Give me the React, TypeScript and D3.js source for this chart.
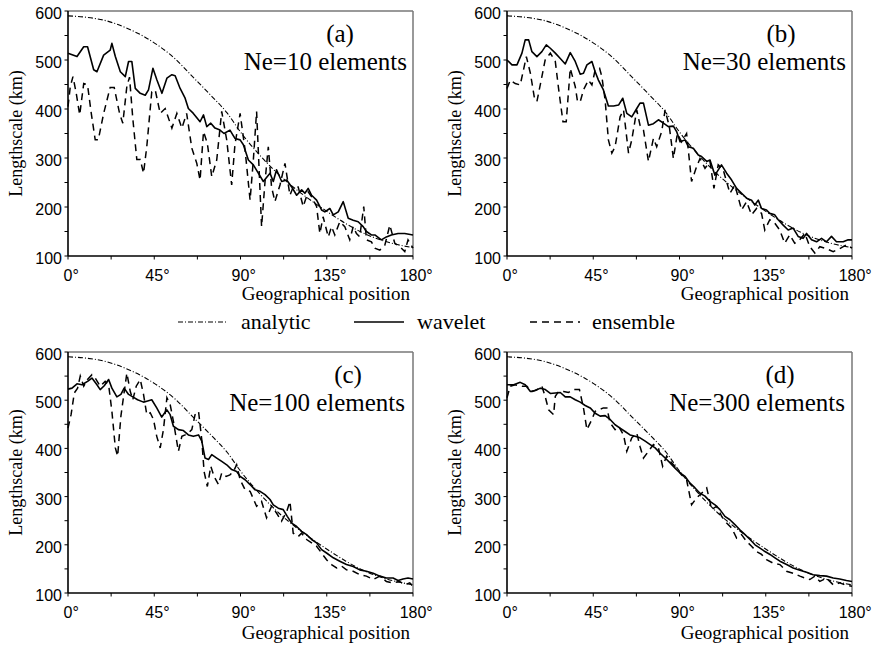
import React from "react";
import * as d3 from "d3";

type P = [number, number];

// ---- Data (degrees, lengthscale km) ----
const analytic: P[] = [
  [0, 590], [10, 587], [20, 580], [30, 566], [40, 547], [48, 527], [56, 502], [65, 466],
  [75, 426], [83, 392], [90, 353], [100, 306], [110, 266], [120, 233], [128, 210], [137, 186],
  [145, 166], [154, 147], [163, 133], [170, 125], [180, 117],
];

const waveletA: P[] = [
  [0, 514], [4.7, 507], [8.2, 527], [10.2, 527], [13.4, 480], [15.1, 476], [18.6, 510], [22.0, 520],
  [22.9, 534], [24.7, 507], [27.3, 476], [29.9, 466], [31.6, 497], [33.3, 497], [35.1, 442], [37.7, 432],
  [40.3, 428], [42.0, 439], [44.3, 483], [46.4, 459], [49.0, 432], [51.6, 463], [54.2, 470], [55.9, 468],
  [58.5, 442], [61.1, 422], [62.8, 401], [65.4, 391], [68.9, 374], [70.7, 388], [72.4, 364], [74.5, 371],
  [76.7, 361], [79.3, 357], [81.4, 350], [84.5, 357], [87.1, 340], [89.8, 337], [91.5, 327], [94.1, 296],
  [96.7, 286], [99.3, 269], [101.9, 252], [105.4, 269], [107.1, 252], [108.8, 276], [111.5, 252], [114.1, 255],
  [116.7, 241], [119.3, 224], [121.9, 235], [123.6, 228], [125.3, 238], [127.1, 224], [129.7, 214], [132.3, 194],
  [134.0, 190], [136.6, 197], [138.4, 184], [141.0, 190], [143.6, 211], [146.2, 177], [148.8, 173], [151.4, 170],
  [154.0, 160], [155.7, 150], [158.3, 143], [160.1, 143], [163.5, 133], [166.1, 139], [168.7, 143], [172.2, 146],
  [175.7, 146], [180, 143],
];

const ensembleA: P[] = [
  [0, 405], [1.2, 446], [2.6, 466], [4.3, 432], [6.1, 388], [8.2, 452], [10.2, 449], [12.0, 395],
  [14.2, 337], [15.8, 337], [18.6, 391], [22.0, 444], [24.1, 444], [26.9, 391], [28.6, 371], [30.7, 446],
  [32.1, 465], [33.8, 381], [35.9, 297], [37.7, 297], [39.4, 269], [41.1, 323], [43.7, 435], [45.5, 439],
  [48.1, 391], [50.7, 401], [54.2, 361], [56.8, 391], [59.4, 361], [61.9, 391], [64.6, 320], [67.2, 289],
  [68.9, 255], [70.7, 354], [72.7, 330], [75.0, 262], [77.6, 296], [80.2, 395], [82.8, 337], [85.4, 245],
  [87.1, 327], [89.8, 391], [92.4, 316], [95.0, 214], [96.7, 296], [98.4, 395], [101.0, 160], [102.8, 252],
  [104.5, 323], [106.2, 241], [107.97, 211], [110.6, 245], [113.2, 289], [115.8, 224], [117.5, 241], [120.1, 241],
  [122.7, 201], [125.3, 231], [127.1, 221], [129.7, 201], [131.4, 146], [133.1, 180], [135.8, 139], [137.5, 160],
  [139.2, 143], [141.8, 170], [144.4, 160], [147.0, 133], [148.8, 160], [150.5, 146], [152.2, 139], [154.3, 201],
  [155.7, 133], [158.3, 129], [160.1, 116], [162.7, 112], [165.3, 122], [167.9, 163], [170.5, 126], [173.1, 119],
  [175.7, 109], [177.4, 133], [180, 116],
];

const waveletB: P[] = [
  [0, 500], [2.6, 490], [5.2, 490], [7.8, 514], [9.5, 541], [11.3, 541], [13.0, 517], [15.6, 507],
  [18.2, 517], [20.5, 531], [22.6, 524], [25.2, 514], [27.8, 503], [30.4, 492], [33.0, 515], [35.6, 497],
  [38.2, 471], [39.9, 473], [41.7, 490], [44.3, 497], [46.0, 476], [47.7, 459], [50.3, 439], [52.9, 406],
  [55.6, 406], [58.2, 408], [60.4, 422], [62.5, 391], [65.1, 384], [67.7, 401], [69.4, 412], [71.2, 412],
  [73.8, 367], [76.4, 370], [79.0, 378], [81.6, 371], [84.2, 364], [86.8, 365], [88.5, 354], [90.3, 333],
  [92.9, 337], [94.6, 323], [97.2, 320], [99.8, 306], [101.5, 303], [104.2, 293], [105.9, 296], [108.5, 265],
  [111.9, 286], [114.6, 269], [117.2, 255], [119.8, 238], [122.4, 228], [125.0, 218], [127.6, 214], [129.3, 204],
  [131.1, 214], [132.8, 197], [135.4, 194], [137.1, 187], [139.7, 184], [141.5, 174], [144.1, 163], [146.7, 153],
  [149.3, 157], [151.9, 140], [154.5, 136], [156.3, 146], [158.9, 133], [161.5, 129], [164.1, 136], [166.7, 129],
  [169.3, 140], [171.9, 129], [175.4, 129], [178.0, 133], [180, 133],
];

const ensembleB: P[] = [
  [0, 442], [1.7, 459], [4.3, 452], [6.9, 449], [10.1, 507], [12.2, 473], [14.2, 425], [15.6, 415],
  [18.2, 466], [19.9, 500], [22.6, 514], [25.2, 497], [26.9, 442], [29.2, 374], [30.9, 374], [33.0, 483],
  [35.6, 446], [36.8, 415], [38.2, 415], [39.9, 439], [42.5, 459], [44.3, 449], [46.0, 480], [48.3, 483],
  [49.5, 466], [51.2, 418], [52.9, 337], [54.7, 310], [56.4, 323], [59.0, 384], [60.8, 398], [63.4, 310],
  [65.1, 337], [67.7, 398], [69.4, 367], [71.2, 357], [73.8, 293], [76.4, 340], [78.1, 323], [80.7, 354],
  [82.5, 398], [84.7, 364], [86.8, 299], [88.9, 350], [91.1, 333], [93.7, 350], [96.3, 252], [98.9, 282],
  [100.7, 299], [103.3, 279], [105.9, 293], [107.97, 238], [110.2, 286], [112.8, 276], [116.3, 228], [118.9, 245],
  [122.4, 194], [125.0, 211], [127.6, 184], [130.2, 197], [132.8, 187], [134.5, 153], [137.1, 174], [139.7, 167],
  [142.3, 153], [144.9, 126], [147.5, 143], [150.1, 126], [152.7, 133], [155.4, 146], [158.0, 119], [160.6, 106],
  [163.2, 119], [166.7, 115], [170.2, 109], [173.6, 115], [177.1, 123], [180, 116],
];

const waveletC: P[] = [
  [0, 523], [2.1, 525], [4.7, 534], [7.3, 532], [10.2, 539], [12.5, 546], [15.1, 532], [16.8, 522],
  [18.9, 530], [21.2, 543], [22.9, 525], [25.5, 507], [27.6, 512], [29.3, 525], [31.6, 512], [33.8, 507],
  [36.3, 501], [39.4, 496], [41.1, 498], [43.7, 501], [46.3, 484], [48.9, 465], [51.6, 480], [53.3, 470],
  [55.0, 446], [57.6, 439], [60.2, 437], [62.8, 428], [65.4, 425], [68.1, 428], [69.8, 415], [71.5, 380],
  [73.3, 377], [75.0, 387], [77.6, 380], [80.2, 373], [82.8, 366], [85.4, 356], [88.0, 352], [89.8, 342],
  [92.4, 335], [95.0, 325], [97.6, 314], [100.2, 311], [102.8, 304], [105.4, 294], [107.1, 283], [109.7, 276],
  [112.3, 273], [114.4, 259], [116.7, 245], [119.3, 238], [121.9, 228], [124.5, 221], [127.1, 211], [129.7, 204],
  [132.3, 190], [134.9, 183], [138.4, 173], [141.8, 166], [145.3, 159], [148.8, 155], [152.2, 148], [155.7, 145],
  [159.2, 141], [162.7, 135], [166.1, 131], [169.6, 131], [172.2, 126], [174.8, 129], [177.4, 131], [180, 129],
];

const ensembleC: P[] = [
  [0, 442], [1.6, 470], [3.3, 515], [5.0, 525], [6.4, 550], [8.2, 529], [10.2, 543], [12.5, 553],
  [14.2, 546], [16.8, 529], [19.4, 539], [21.2, 532], [22.9, 477], [24.7, 401], [25.9, 384], [27.6, 467],
  [29.0, 508], [30.7, 556], [32.5, 518], [33.8, 501], [35.6, 529], [37.7, 543], [39.4, 512], [41.1, 470],
  [42.9, 474], [44.6, 460], [46.3, 425], [48.1, 401], [49.8, 439], [51.6, 505], [53.3, 491], [55.0, 456],
  [57.6, 394], [59.4, 425], [61.1, 428], [62.8, 432], [64.6, 439], [66.3, 470], [68.1, 477], [69.8, 418],
  [71.0, 352], [72.7, 321], [74.5, 363], [76.2, 342], [78.5, 325], [80.2, 349], [82.5, 342], [84.5, 345],
  [86.3, 352], [88.0, 366], [89.8, 335], [92.4, 314], [95.0, 311], [98.4, 280], [101.0, 290], [103.6, 256],
  [106.2, 280], [108.8, 266], [111.4, 249], [114.1, 269], [115.8, 290], [117.5, 224], [120.1, 217], [121.9, 224],
  [124.5, 211], [127.1, 204], [129.7, 197], [132.3, 183], [134.9, 169], [137.5, 159], [140.1, 152], [142.7, 156],
  [145.3, 148], [148.8, 145], [152.2, 138], [155.7, 135], [159.2, 128], [162.7, 135], [166.1, 124], [169.6, 121],
  [173.1, 124], [175.7, 117], [178.3, 121], [180, 114],
];

const waveletD: P[] = [
  [0, 532], [3.5, 532], [6.9, 537], [9.5, 532], [12.2, 518], [14.8, 520], [17.4, 525], [20.0, 522],
  [22.6, 514], [25.2, 515], [27.8, 516], [30.4, 507], [33.0, 507], [35.6, 501], [38.2, 496], [40.8, 489],
  [43.4, 484], [46.0, 473], [48.6, 467], [51.2, 468], [53.8, 460], [56.4, 449], [59.0, 442], [61.6, 435],
  [64.2, 428], [66.8, 425], [69.4, 422], [72.1, 415], [74.7, 408], [77.3, 401], [79.9, 390], [82.5, 380],
  [85.1, 370], [87.7, 359], [90.3, 349], [92.9, 342], [95.5, 328], [98.1, 318], [100.7, 307], [103.3, 301],
  [105.9, 290], [108.5, 283], [111.1, 273], [113.7, 259], [116.3, 252], [118.9, 242], [121.5, 231], [124.2, 221],
  [126.8, 211], [129.4, 200], [132.0, 193], [134.6, 186], [137.2, 180], [139.8, 173], [142.4, 166], [145.9, 159],
  [149.3, 152], [152.8, 147], [156.3, 143], [159.7, 138], [163.2, 136], [166.7, 135], [170.2, 131], [173.6, 129],
  [177.1, 126], [180, 124],
];

const ensembleD: P[] = [
  [0, 505], [1.7, 529], [4.3, 532], [7.8, 529], [10.4, 529], [13.0, 518], [15.6, 522], [18.2, 529],
  [19.9, 508], [21.7, 480], [24.3, 470], [25.2, 508], [26.9, 518], [29.5, 518], [32.1, 516], [34.7, 522],
  [37.8, 522], [39.9, 484], [41.7, 439], [44.3, 460], [46.0, 477], [47.7, 480], [50.3, 484], [52.1, 484],
  [53.8, 453], [56.4, 439], [58.2, 446], [60.8, 428], [62.5, 394], [65.1, 422], [67.7, 432], [69.4, 404],
  [71.2, 380], [73.8, 394], [76.4, 408], [79.0, 401], [81.2, 363], [83.3, 384], [85.9, 370], [88.5, 359],
  [91.1, 345], [93.7, 335], [96.3, 283], [98.9, 297], [101.5, 307], [104.2, 318], [106.8, 273], [109.4, 280],
  [112.0, 259], [114.6, 245], [117.2, 235], [119.8, 214], [122.4, 221], [125.0, 207], [127.6, 197], [130.2, 186],
  [132.8, 180], [135.4, 169], [138.9, 162], [142.4, 159], [145.8, 145], [149.3, 141], [152.8, 135], [155.4, 131],
  [158.0, 128], [160.6, 135], [163.2, 124], [166.7, 131], [170.2, 117], [173.6, 121], [176.2, 117], [180, 114],
];

const panelLetters = ["(a)", "(b)", "(c)", "(d)"];
const panelNe = ["Ne=10 elements", "Ne=30 elements", "Ne=100 elements", "Ne=300 elements"];
const xMajor = [0, 45, 90, 135, 180];
const xMinor = [22.5, 67.5, 112.5, 157.5];
const yMajor = [100, 200, 300, 400, 500, 600];
const yMinor = [150, 250, 350, 450, 550];
const legendLabels = ["analytic", "wavelet", "ensemble"];

const SERIF = "'Liberation Serif', 'Times New Roman', Times, serif";
const SANS = "'Liberation Sans', Arial, Helvetica, sans-serif";

const DASHDOT = "5,2,1,2";
const DASHED = "7,5";

interface PanelProps {
  left: number;
  top: number;
  w: number;
  h: number;
  wavelet: P[];
  ensemble: P[];
  letter: string;
  ne: string;
  letterOffset: number;
  neRightPad: number;
  xTitleDy: number;
}

function Panel(p: PanelProps) {
  const x = d3.scaleLinear().domain([0, 180]).range([p.left, p.left + p.w]);
  const y = d3.scaleLinear().domain([100, 600]).range([p.top + p.h, p.top]);
  const line = d3.line<P>().x((d) => x(d[0])).y((d) => y(d[1]));
  const smooth = d3
    .line<P>()
    .x((d) => x(d[0]))
    .y((d) => y(d[1]))
    .curve(d3.curveMonotoneX);
  const bottom = p.top + p.h;
  const right = p.left + p.w;
  return (
    <g>
      {/* frame */}
      <line x1={p.left} x2={right} y1={p.top} y2={p.top} stroke="#777" strokeWidth={1.5} />
      <line x1={right} x2={right} y1={p.top} y2={bottom} stroke="#777" strokeWidth={1.5} />
      {/* curves */}
      <path d={smooth(analytic) || ""} fill="none" stroke="#000" strokeWidth={1.1} strokeDasharray={DASHDOT} />
      <path d={line(p.ensemble) || ""} fill="none" stroke="#000" strokeWidth={1.5} strokeDasharray={DASHED} />
      <path d={line(p.wavelet) || ""} fill="none" stroke="#000" strokeWidth={1.6} strokeLinejoin="round" />
      {/* axes */}
      <line x1={p.left} x2={p.left} y1={p.top} y2={bottom} stroke="#000" strokeWidth={1.6} />
      <line x1={p.left} x2={right} y1={bottom} y2={bottom} stroke="#000" strokeWidth={1.6} />
      {[...yMajor, ...yMinor].map((v) => (
        <line key={"yt" + v} x1={p.left - 3.5} x2={p.left} y1={y(v)} y2={y(v)} stroke="#000" strokeWidth={1} />
      ))}
      {[...xMajor, ...xMinor].map((v) => (
        <line key={"xt" + v} x1={x(v)} x2={x(v)} y1={bottom} y2={bottom + 3.5} stroke="#000" strokeWidth={1} />
      ))}
      {yMajor.map((v) => (
        <text key={"yl" + v} x={p.left - 6} y={y(v) + 8} textAnchor="end" fontFamily={SANS} fontSize={16} fill="#000">
          {v}
        </text>
      ))}
      {xMajor.map((v) => {
        const s = String(v);
        return (
          <text key={"xl" + v} x={x(v) - (s.length * 8.9) / 2} y={bottom + 25} fontFamily={SANS} fontSize={16} fill="#000">
            {s + "°"}
          </text>
        );
      })}
      <text
        x={right - 3}
        y={bottom + p.xTitleDy}
        textAnchor="end"
        fontFamily={SERIF}
        fontSize={19}
        fill="#000"
      >
        Geographical position
      </text>
      <text
        transform={`translate(${p.left - 46},${p.top + p.h / 2}) rotate(-90)`}
        textAnchor="middle"
        fontFamily={SERIF}
        fontSize={18}
        fill="#000"
      >
        Lengthscale (km)
      </text>
      <text x={p.left + p.letterOffset} y={p.top + 31} textAnchor="middle" fontFamily={SERIF} fontSize={25} fill="#000">
        {p.letter}
      </text>
      <text x={right - p.neRightPad} y={p.top + 59} textAnchor="end" fontFamily={SERIF} fontSize={25} fill="#000">
        {p.ne}
      </text>
    </g>
  );
}

export default function App() {
  const panels = [
    { left: 68, top: 11, w: 345, h: 245, wavelet: waveletA, ensemble: ensembleA, letterOffset: 272, neRightPad: 6, xTitleDy: 44 },
    { left: 507, top: 11, w: 345, h: 245, wavelet: waveletB, ensemble: ensembleB, letterOffset: 274, neRightPad: 6, xTitleDy: 44 },
    { left: 68, top: 352, w: 345, h: 241, wavelet: waveletC, ensemble: ensembleC, letterOffset: 280, neRightPad: 8, xTitleDy: 46 },
    { left: 507, top: 352, w: 345, h: 241, wavelet: waveletD, ensemble: ensembleD, letterOffset: 273, neRightPad: 7, xTitleDy: 46 },
  ];
  const legendY = 322;
  const legend = [
    { x0: 178, x1: 228, tx: 241, dash: DASHDOT, sw: 1.1 },
    { x0: 354, x1: 404, tx: 417, dash: undefined, sw: 1.6 },
    { x0: 530, x1: 580, tx: 592, dash: DASHED, sw: 1.5 },
  ];
  return (
    <svg
      width={874}
      height={648}
      viewBox="0 0 874 648"
      style={{ position: "absolute", left: 0, top: 0, background: "#fff" }}
    >
      <rect x={0} y={0} width={874} height={648} fill="#fff" />
      {panels.map((p, i) => (
        <Panel key={i} {...p} letter={panelLetters[i]} ne={panelNe[i]} />
      ))}
      {legend.map((l, i) => (
        <g key={"lg" + i}>
          <line x1={l.x0} x2={l.x1} y1={legendY} y2={legendY} stroke="#000" strokeWidth={l.sw} strokeDasharray={l.dash} />
          <text x={l.tx} y={legendY + 7} fontFamily={SERIF} fontSize={22} fill="#000">
            {legendLabels[i]}
          </text>
        </g>
      ))}
    </svg>
  );
}
